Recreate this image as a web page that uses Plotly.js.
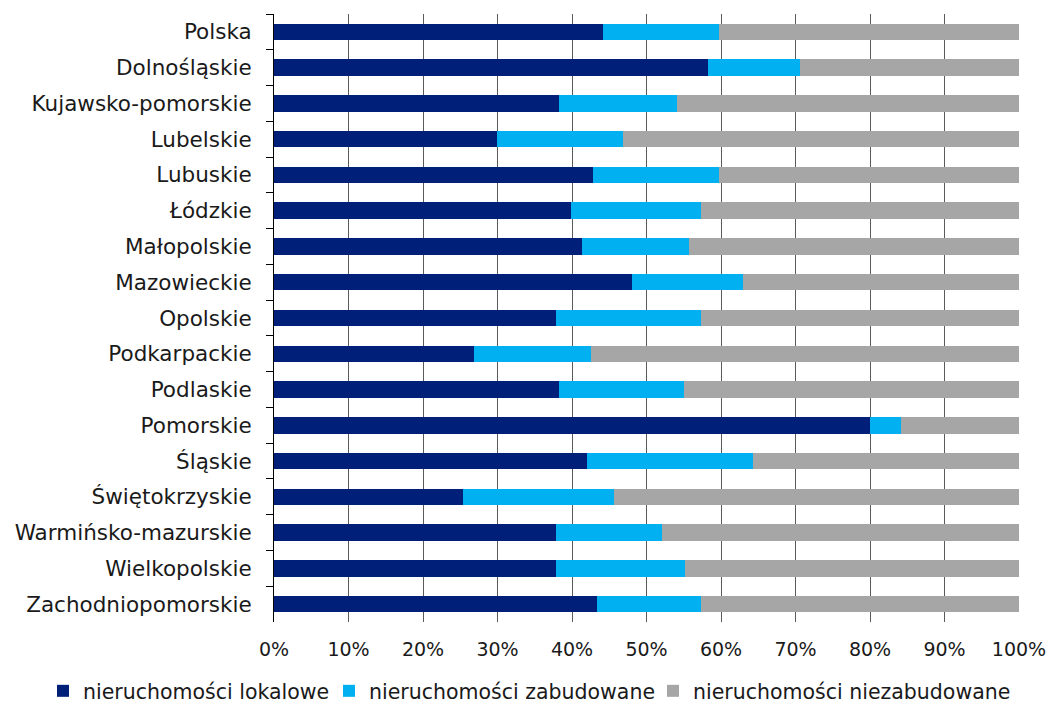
<!DOCTYPE html>
<html>
<head>
<meta charset="utf-8">
<script src="https://cdn.plot.ly/plotly-3.0.1.min.js"></script>
<style>html,body{margin:0;padding:0;background:#fff;}#chart{width:1049px;height:711px;}</style>
</head>
<body>
<div id="chart"></div>
<script>
const categories = ["Polska","Dolnośląskie","Kujawsko-pomorskie","Lubelskie","Lubuskie","Łódzkie","Małopolskie","Mazowieckie","Opolskie","Podkarpackie","Podlaskie","Pomorskie","Śląskie","Świętokrzyskie","Warmińsko-mazurskie","Wielkopolskie","Zachodniopomorskie"];
const lokalowe =      [44.1, 58.3, 38.3, 29.9, 42.8, 39.9, 41.4, 48.1, 37.8, 26.9, 38.3, 80.0, 42.0, 25.4, 37.9, 37.8, 43.4];
const zabudowane =    [15.6, 12.3, 15.8, 17.0, 16.9, 17.4, 14.3, 14.8, 19.5, 15.7, 16.7,  4.2, 22.3, 20.3, 14.2, 17.4, 13.9];
const niezabudowane = [40.3, 29.4, 45.9, 53.1, 40.3, 42.7, 44.3, 37.1, 42.7, 57.4, 45.0, 15.8, 35.7, 54.3, 47.9, 44.8, 42.7];
const seriesNames = ["nieruchomości lokalowe","nieruchomości zabudowane","nieruchomości niezabudowane"];
const tickVals = [0,10,20,30,40,50,60,70,80,90,100];
const tickText = tickVals.map(v => v + "%");

const colors = ["#001F78", "#00B0F0", "#A6A6A6"];
const legendIds = ["legend", "legend2", "legend3"];
const data = [lokalowe, zabudowane, niezabudowane].map((vals, i) => ({
  type: "bar",
  orientation: "h",
  y: categories,
  x: vals,
  name: seriesNames[i],
  legend: legendIds[i],
  marker: {color: colors[i]},
  hoverinfo: "x+y"
}));

const font = "'DejaVu Sans', 'Noto Sans', sans-serif";
const legendFont = {family: font, size: 20.5, color: "#1a1a1a"};
function legendAt(xpx) {
  return {
    orientation: "h",
    x: xpx / 1049,
    xref: "container",
    xanchor: "left",
    y: 0.0,
    yref: "container",
    yanchor: "bottom",
    font: legendFont,
    itemwidth: 30,
    bgcolor: "rgba(0,0,0,0)"
  };
}
const layout = {
  barmode: "stack",
  bargap: 0.54,
  width: 1049,
  height: 711,
  margin: {l: 274, r: 30, t: 14, b: 89},
  paper_bgcolor: "#fff",
  plot_bgcolor: "#fff",
  font: {family: font, size: 19, color: "#1a1a1a"},
  xaxis: {
    range: [0, 100],
    tickvals: tickVals,
    ticktext: tickText,
    showgrid: true,
    gridcolor: "#5a5a5a",
    gridwidth: 1,
    zeroline: false,
    showline: false,
    ticks: "",
    ticklabelstandoff: 14,
    tickfont: {family: font, size: 19, color: "#1a1a1a"},
    fixedrange: true
  },
  yaxis: {
    type: "category",
    autorange: "reversed",
    showline: true,
    linecolor: "#000",
    linewidth: 1,
    ticks: "outside",
    tickson: "boundaries",
    ticklen: 7,
    tickcolor: "#000",
    showgrid: false,
    ticklabelstandoff: 17,
    tickfont: {family: font, size: 21.5, color: "#1a1a1a"},
    fixedrange: true
  },
  legend: legendAt(43),
  legend2: legendAt(329),
  legend3: legendAt(653),
  showlegend: true
};

Plotly.newPlot("chart", data, layout, {displayModeBar: false, staticPlot: true});
</script>
</body>
</html>
